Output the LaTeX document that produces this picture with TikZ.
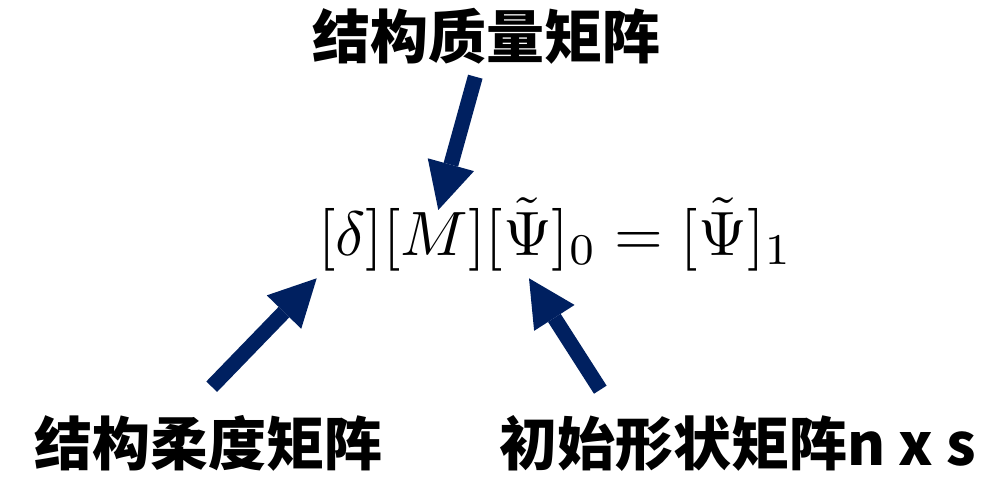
\documentclass[tikz,border=0pt]{standalone}
\usepackage{fontspec}
\newfontfamily\cjk{Noto Sans CJK SC}
\usetikzlibrary{arrows.meta}
\definecolor{navyarrow}{RGB}{0,32,96}
\tikzset{
  label/.style={anchor=base west, inner sep=0pt, font=\cjk\bfseries\fontsize{58}{64}\selectfont, text=black},
  bigarrow/.style={draw=navyarrow, line width=15pt, line cap=butt,
    -{Triangle[width=48pt,length=47pt,line width=0pt,fill=navyarrow]}}
}
\begin{document}
\begin{tikzpicture}[x=1pt,y=-1pt]
\useasboundingbox (0,0) rectangle (989,492);
\node[label] (mass) at (312,59) {结构质量矩阵};
\node[anchor=base west, inner sep=0pt, scale=6.27] (eq) at (316.8,255.5)
  {$[\delta][M][\tilde{\Psi}]_0 = [\tilde{\Psi}]_1$};
\node[label] (flex) at (34,465) {结构柔度矩阵};
\node[label] (shape) at (499,465) {初始形状矩阵n x s};
\coordinate (t1) at (475.3,76.7);
\coordinate (h1) at (438.3,210);
\coordinate (t2) at (211.7,386.7);
\coordinate (h2) at (316.7,278.3);
\coordinate (t3) at (600.3,389.7);
\coordinate (h3) at (529,278.3);
\draw[bigarrow] (t1) -- (h1);
\draw[bigarrow] (t2) -- (h2);
\draw[bigarrow] (t3) -- (h3);
\end{tikzpicture}
\end{document}
